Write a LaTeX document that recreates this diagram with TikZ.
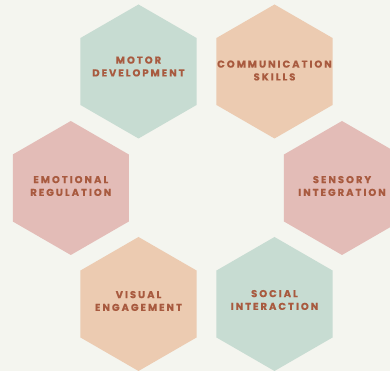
\documentclass[tikz,border=0pt]{standalone}
\usepackage{fontspec}
\usetikzlibrary{shapes.geometric}
\newfontfamily\hexfont{Poppins}[LetterSpace=20, UprightFont=* Bold, FakeBold=0.5]
\definecolor{paper}{HTML}{F4F5EF}
\definecolor{sage}{HTML}{C7DCD2}
\definecolor{peach}{HTML}{ECCBB1}
\definecolor{rose}{HTML}{E3BCB7}
\definecolor{rust}{HTML}{A85A3F}
\begin{document}
\begin{tikzpicture}[x=1pt,y=1pt,
  hexcell/.style={regular polygon, regular polygon sides=6, shape border rotate=30,
    minimum size=134pt, inner sep=0pt, draw=none},
  hextext/.style={align=center, inner sep=0pt, text=rust,
    font=\hexfont\fontsize{10}{12.8}\selectfont}]
  \clip (0,0) rectangle (390,371);
  \fill[paper] (0,0) rectangle (390,371);
  % ring of six skill cells around an empty centre
  \node[hexcell, fill=sage]  (motor)   at (138.5,299.5) {};
  \node[hexcell, fill=peach] (comm)    at (274.5,299.5) {};
  \node[hexcell, fill=rose]  (emotion) at (70.8,183)    {};
  \node[hexcell, fill=rose]  (sensory) at (342,183)     {};
  \node[hexcell, fill=peach] (visual)  at (138.5,67)    {};
  \node[hexcell, fill=sage]  (social)  at (274.5,67)    {};
  % captions, set a little above the middle of their cells
  \node[hextext] (motorT)   at ([yshift=5pt]motor.center)   {MOTOR\\DEVELOPMENT};
  \node[hextext] (commT)    at ([yshift=1pt]comm.center)    {COMMUNICATION\\SKILLS};
  \node[hextext] (emotionT) at ([yshift=2pt]emotion.center) {EMOTIONAL\\REGULATION};
  \node[hextext] (sensoryT) at ([yshift=2pt]sensory.center) {SENSORY\\INTEGRATION};
  \node[hextext] (visualT)  at ([yshift=3pt]visual.center)  {VISUAL\\ENGAGEMENT};
  \node[hextext] (socialT)  at ([yshift=4pt]social.center)  {SOCIAL\\INTERACTION};
\end{tikzpicture}
\end{document}
